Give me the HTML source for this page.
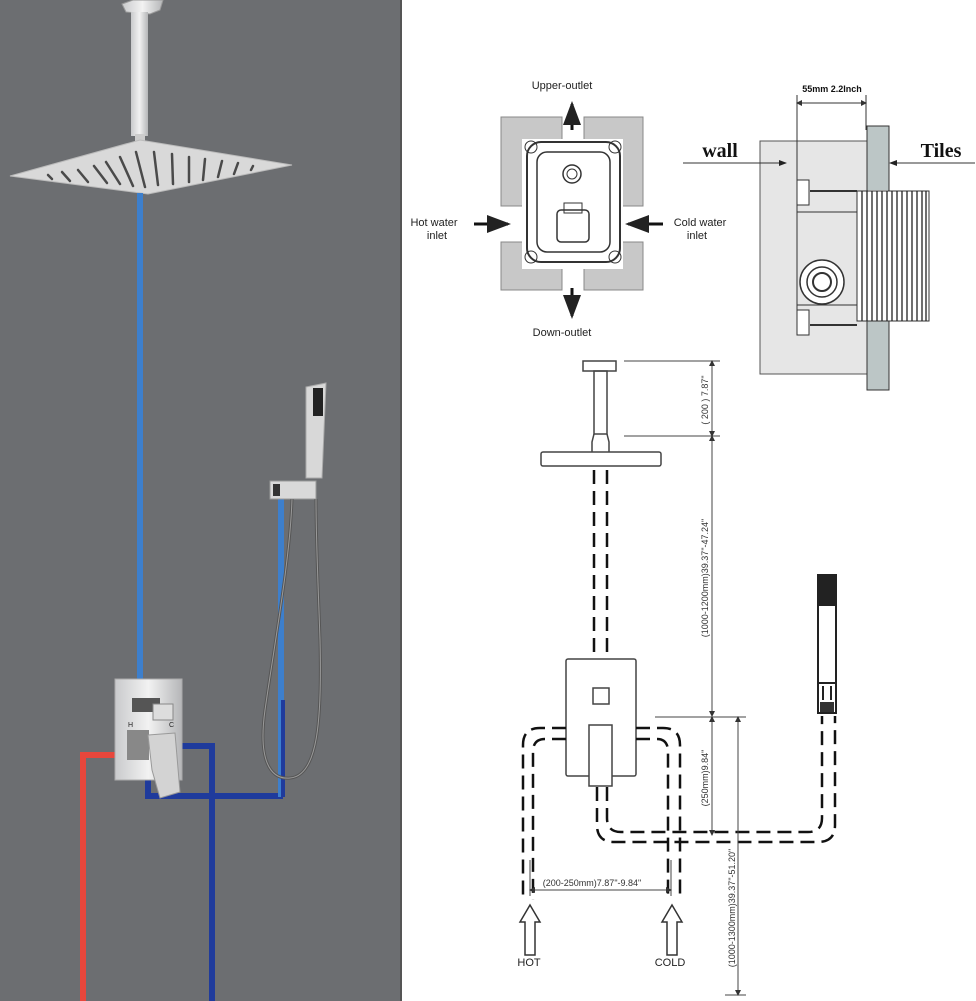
<!DOCTYPE html>
<html><head><meta charset="utf-8"><style>
html,body{margin:0;padding:0;background:#fff;}
svg{display:block;font-family:"Liberation Sans",sans-serif;}
</style></head><body>
<svg width="976" height="1001" viewBox="0 0 976 1001" xmlns="http://www.w3.org/2000/svg">
<defs>
<linearGradient id="chrome" x1="0" x2="1" y1="0" y2="0">
<stop offset="0" stop-color="#c9cacc"/><stop offset="0.5" stop-color="#f2f2f2"/><stop offset="1" stop-color="#b5b6b8"/>
</linearGradient>
<marker id="ah" markerWidth="8" markerHeight="8" refX="7" refY="4" orient="auto"><path d="M0,1 L8,4 L0,7 Z" fill="#222"/></marker>
<marker id="sa" markerWidth="6" markerHeight="8" refX="5" refY="4" orient="auto-start-reverse"><path d="M0,1 L6,4 L0,7 Z" fill="#333"/></marker>
</defs>
<!-- left panel -->
<rect x="0" y="0" width="401" height="1001" fill="#6c6e71"/>
<rect x="400" y="0" width="2" height="1001" fill="#555"/>
<!-- ceiling arm -->
<path d="M122,4 L133,0 L163,0 L160,10 L150,14 L126,12 Z" fill="url(#chrome)" stroke="#999" stroke-width="1"/>
<rect x="131" y="12" width="17" height="124" fill="url(#chrome)"/>
<rect x="135" y="134" width="10" height="7" fill="#ccc"/>
<!-- shower head -->
<polygon points="10,176 140,140 292,165 148,194" fill="#d9d9d9" stroke="#bbb"/>
<g stroke="#4a4a4a" stroke-width="2.5" stroke-linecap="round">
<line x1="48" y1="175" x2="52" y2="179"/><line x1="62" y1="172" x2="70" y2="181"/><line x1="78" y1="170" x2="88" y2="182"/>
<line x1="94" y1="166" x2="107" y2="183"/><line x1="106" y1="162" x2="120" y2="184"/><line x1="120" y1="157" x2="133" y2="186"/>
<line x1="136" y1="152" x2="145" y2="187"/><line x1="154" y1="152" x2="158" y2="185"/><line x1="172" y1="154" x2="173" y2="184"/>
<line x1="189" y1="157" x2="189" y2="182"/><line x1="205" y1="159" x2="203" y2="180"/><line x1="222" y1="161" x2="218" y2="177"/>
<line x1="238" y1="163" x2="234" y2="174"/><line x1="253" y1="166" x2="251" y2="170"/>
</g>
<!-- pipes -->
<line x1="140" y1="193" x2="140" y2="682" stroke="#3d7fcc" stroke-width="6"/>
<polyline points="83,1001 83,755 117,755" fill="none" stroke="#e8473c" stroke-width="6"/>
<polyline points="180,746 212,746 212,1001" fill="none" stroke="#1f3b9c" stroke-width="6"/>
<polyline points="148,778 148,796 283,796" fill="none" stroke="#1f3b9c" stroke-width="6"/>
<line x1="281" y1="497" x2="281" y2="797" stroke="#3d7fcc" stroke-width="6"/>
<line x1="283" y1="700" x2="283" y2="797" stroke="#1f3b9c" stroke-width="4"/>
<!-- valve -->
<rect x="115" y="679" width="67" height="101" fill="url(#chrome)" stroke="#aaa"/>
<rect x="132" y="698" width="28" height="14" fill="#555"/>
<rect x="153" y="704" width="20" height="16" fill="#ddd" stroke="#888"/>
<text x="128" y="727" font-size="7" fill="#222">H</text><text x="169" y="727" font-size="7" fill="#222">C</text>
<rect x="127" y="730" width="22" height="30" fill="#888"/>
<polygon points="148,735 175,733 180,792 160,798 152,770" fill="#d3d3d3" stroke="#999"/>
<!-- hand shower -->
<path d="M306,387 L326,383 L322,478 L306,478 Z" fill="#d8d8d8" stroke="#aaa"/>
<rect x="313" y="388" width="10" height="28" fill="#222"/>
<rect x="270" y="481" width="46" height="18" fill="#d9d9d9" stroke="#999"/>
<rect x="273" y="484" width="7" height="12" fill="#333"/>
<path d="M292,499 C290,560 275,640 265,710 C258,760 270,780 290,778 C318,776 322,720 320,640 C318,580 316,540 316,499" fill="none" stroke="#555" stroke-width="3"/>
<path d="M292,499 C290,560 275,640 265,710 C258,760 270,780 290,778 C318,776 322,720 320,640 C318,580 316,540 316,499" fill="none" stroke="#9a9a9a" stroke-width="1"/>

<!-- top-right: valve front view -->
<path d="M501,117 H562 V206 H501 Z M584,117 H643 V206 H584 Z M501,242 H562 V290 H501 Z M584,242 H643 V290 H584 Z" fill="#c8c8c8" stroke="#888"/>
<rect x="522" y="139" width="101" height="130" fill="#fff"/>
<rect x="527" y="142" width="93" height="120" rx="14" fill="none" stroke="#333" stroke-width="2"/>
<rect x="537" y="152" width="73" height="100" rx="10" fill="none" stroke="#333" stroke-width="1.5"/>
<circle cx="572" cy="174" r="9" fill="none" stroke="#333" stroke-width="1.5"/>
<circle cx="572" cy="174" r="5" fill="none" stroke="#333"/>
<rect x="557" y="210" width="32" height="32" rx="4" fill="none" stroke="#333" stroke-width="1.5"/>
<rect x="564" y="203" width="18" height="10" fill="none" stroke="#333"/>
<circle cx="531" cy="147" r="6" fill="none" stroke="#333"/><circle cx="615" cy="147" r="6" fill="none" stroke="#333"/>
<circle cx="531" cy="257" r="6" fill="none" stroke="#333"/><circle cx="615" cy="257" r="6" fill="none" stroke="#333"/>
<line x1="572" y1="130" x2="572" y2="104" stroke="#111" stroke-width="3" marker-end="url(#ah)"/>
<line x1="572" y1="288" x2="572" y2="316" stroke="#111" stroke-width="3" marker-end="url(#ah)"/>
<line x1="474" y1="224" x2="508" y2="224" stroke="#111" stroke-width="3" marker-end="url(#ah)"/>
<line x1="663" y1="224" x2="628" y2="224" stroke="#111" stroke-width="3" marker-end="url(#ah)"/>
<text x="562" y="89" font-size="11" text-anchor="middle" fill="#222">Upper-outlet</text>
<text x="562" y="336" font-size="11" text-anchor="middle" fill="#222">Down-outlet</text>
<text x="434" y="226" font-size="11" text-anchor="middle" fill="#222">Hot water</text>
<text x="437" y="239" font-size="11" text-anchor="middle" fill="#222">inlet</text>
<text x="700" y="226" font-size="11" text-anchor="middle" fill="#222">Cold water</text>
<text x="697" y="239" font-size="11" text-anchor="middle" fill="#222">inlet</text>

<!-- top-right: side view -->
<rect x="760" y="141" width="110" height="233" fill="#e6e6e6" stroke="#555"/>
<rect x="867" y="126" width="22" height="264" fill="#bcc6c6" stroke="#333"/>
<rect x="868" y="190" width="20" height="130" fill="#fff"/>
<line x1="797" y1="95" x2="797" y2="335" stroke="#333"/>
<line x1="866" y1="95" x2="866" y2="130" stroke="#333"/>
<line x1="797" y1="103" x2="866" y2="103" stroke="#333" marker-start="url(#sa)" marker-end="url(#sa)"/>
<text x="832" y="92" font-size="9" font-weight="bold" text-anchor="middle" fill="#111">55mm 2.2Inch</text>
<line x1="797" y1="212" x2="857" y2="212" stroke="#333"/>
<line x1="797" y1="305" x2="857" y2="305" stroke="#333"/>
<line x1="810" y1="191" x2="857" y2="191" stroke="#333" stroke-width="2"/>
<line x1="810" y1="325" x2="857" y2="325" stroke="#333" stroke-width="2"/>
<rect x="797" y="180" width="12" height="25" fill="#fff" stroke="#333"/>
<rect x="797" y="310" width="12" height="25" fill="#fff" stroke="#333"/>
<circle cx="822" cy="282" r="22" fill="#fff" stroke="#333" stroke-width="1.5"/>
<circle cx="822" cy="282" r="15" fill="none" stroke="#333" stroke-width="1.5"/>
<circle cx="822" cy="282" r="9" fill="none" stroke="#333" stroke-width="2"/>
<rect x="857" y="191" width="72" height="130" fill="#fff" stroke="#333"/>
<g stroke="#222" stroke-width="1.3">
<line x1="862" y1="191" x2="862" y2="321"/><line x1="867" y1="191" x2="867" y2="321"/><line x1="872" y1="191" x2="872" y2="321"/>
<line x1="877" y1="191" x2="877" y2="321"/><line x1="882" y1="191" x2="882" y2="321"/><line x1="887" y1="191" x2="887" y2="321"/>
<line x1="892" y1="191" x2="892" y2="321"/><line x1="897" y1="191" x2="897" y2="321"/><line x1="902" y1="191" x2="902" y2="321"/>
<line x1="907" y1="191" x2="907" y2="321"/><line x1="912" y1="191" x2="912" y2="321"/><line x1="917" y1="191" x2="917" y2="321"/>
<line x1="922" y1="191" x2="922" y2="321"/><line x1="926" y1="191" x2="926" y2="321"/>
</g>
<line x1="683" y1="163" x2="786" y2="163" stroke="#333" marker-end="url(#ah)"/>
<line x1="975" y1="163" x2="890" y2="163" stroke="#333" marker-end="url(#ah)"/>
<text x="720" y="157" font-family="Liberation Serif,serif" font-size="20" font-weight="bold" text-anchor="middle" fill="#111">wall</text>
<text x="941" y="157" font-family="Liberation Serif,serif" font-size="20" font-weight="bold" text-anchor="middle" fill="#111">Tiles</text>

<!-- bottom drawing -->
<g fill="none" stroke="#444" stroke-width="1.5">
<rect x="583" y="361" width="33" height="10"/>
<rect x="594" y="371" width="13" height="63"/>
<path d="M594,434 L592,442 L592,452 M607,434 L609,442 L609,452"/>
<rect x="541" y="452" width="120" height="14" rx="2"/>
<rect x="566" y="659" width="70" height="117" rx="2"/>
<rect x="593" y="688" width="16" height="16"/>
<rect x="589" y="725" width="23" height="61" fill="#fff"/>
</g>
<g fill="none" stroke="#111" stroke-width="2.5" stroke-dasharray="14,7">
<line x1="594" y1="470" x2="594" y2="658"/><line x1="607" y1="470" x2="607" y2="658"/>
<path d="M566,728 H540 Q523,728 523,745 V900"/>
<path d="M566,739 H545 Q533,739 533,752 V900"/>
<path d="M636,728 H663 Q680,728 680,745 V900"/>
<path d="M636,739 H657 Q668,739 668,752 V900"/>
<path d="M597,787 V825 Q597,842 614,842 H818 Q835,842 835,825 V716"/>
<path d="M607,787 V818 Q607,832 621,832 H808 Q822,832 822,818 V716"/>
</g>
<!-- hand shower drawing -->
<rect x="818" y="575" width="18" height="110" fill="#fff" stroke="#222" stroke-width="2"/>
<rect x="819" y="576" width="16" height="30" fill="#222"/>
<rect x="818" y="683" width="18" height="30" fill="#fff" stroke="#222" stroke-width="2"/>
<line x1="823" y1="686" x2="823" y2="700" stroke="#222" stroke-width="2"/><line x1="831" y1="686" x2="831" y2="700" stroke="#222" stroke-width="2"/>
<rect x="820" y="702" width="14" height="10" fill="#333"/>
<!-- dimensions -->
<g stroke="#444" stroke-width="1">
<line x1="624" y1="361" x2="720" y2="361"/>
<line x1="624" y1="436" x2="720" y2="436"/>
<line x1="712" y1="361" x2="712" y2="436" marker-start="url(#sa)" marker-end="url(#sa)"/>
<line x1="712" y1="436" x2="712" y2="716" marker-start="url(#sa)" marker-end="url(#sa)"/>
<line x1="655" y1="717" x2="746" y2="717"/>
<line x1="712" y1="717" x2="712" y2="835" marker-start="url(#sa)" marker-end="url(#sa)"/>
<line x1="738" y1="717" x2="738" y2="995" marker-start="url(#sa)" marker-end="url(#sa)"/>
<line x1="725" y1="995" x2="746" y2="995"/>
<line x1="530" y1="860" x2="530" y2="896"/><line x1="671" y1="860" x2="671" y2="896"/>
<line x1="530" y1="890" x2="671" y2="890" marker-start="url(#sa)" marker-end="url(#sa)"/>
</g>
<g font-size="9" fill="#333" text-anchor="middle">
<text transform="translate(708,400) rotate(-90)">( 200 ) 7.87"</text>
<text transform="translate(708,578) rotate(-90)">(1000-1200mm)39.37"-47.24"</text>
<text transform="translate(708,778) rotate(-90)">(250mm)9.84"</text>
<text transform="translate(735,908) rotate(-90)">(1000-1300mm)39.37"-51.20"</text>
<text x="592" y="886">(200-250mm)7.87"-9.84"</text>
</g>
<path d="M530,905 L540,922 L535,922 L535,955 L525,955 L525,922 L520,922 Z" fill="#fff" stroke="#333" stroke-width="1.5"/>
<path d="M672,905 L682,922 L677,922 L677,955 L667,955 L667,922 L662,922 Z" fill="#fff" stroke="#333" stroke-width="1.5"/>
<text x="529" y="966" font-size="11" text-anchor="middle" fill="#222">HOT</text>
<text x="670" y="966" font-size="11" text-anchor="middle" fill="#222">COLD</text>
</svg>
</body></html>
